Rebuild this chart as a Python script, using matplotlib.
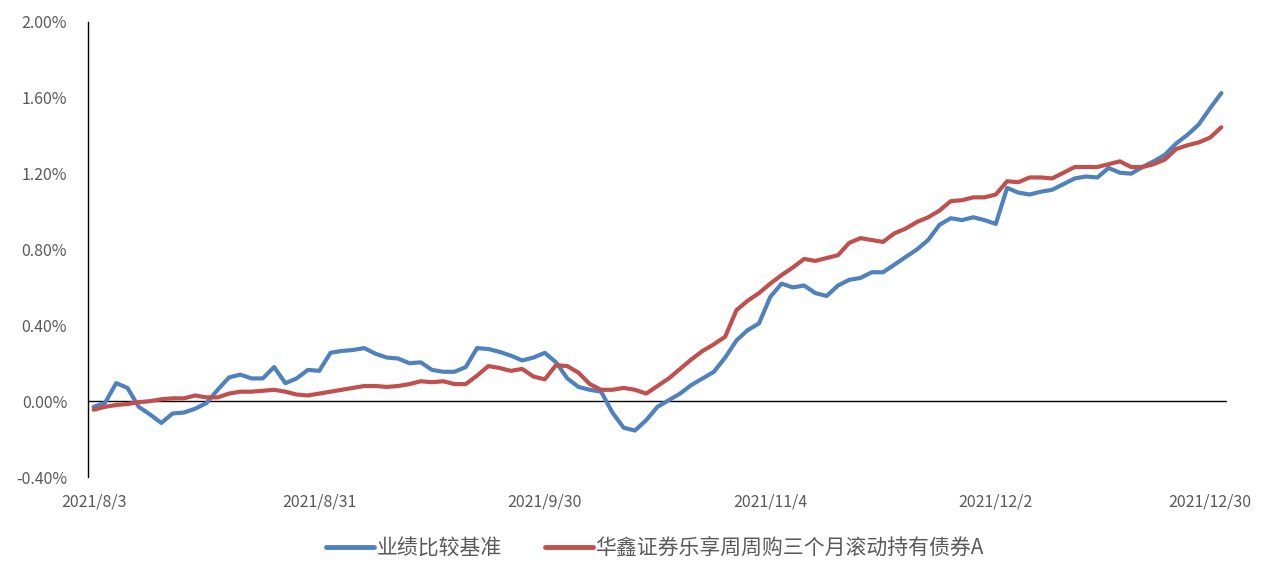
import matplotlib
matplotlib.use("Agg")
import matplotlib.pyplot as plt
import matplotlib.transforms as mtransforms
from matplotlib.ticker import PercentFormatter
import numpy as np

plt.rcParams['font.family'] = ['Noto Sans CJK SC', 'DejaVu Sans']
plt.rcParams['axes.unicode_minus'] = False

# x axis labels (one every 20 trading days)
tickDates = ['2021/8/3', '2021/8/31', '2021/9/30', '2021/11/4', '2021/12/2', '2021/12/30']
tickEvery = 20

seriesNames = ['业绩比较基准', '华鑫证券乐享周周购三个月滚动持有债券A']

# cumulative return, in %
benchmarkSeq = [
    -0.03, -0.01, 0.095, 0.07, -0.03, -0.07, -0.115, -0.065, -0.06, -0.04,
    -0.01, 0.06, 0.125, 0.14, 0.12, 0.12, 0.18, 0.095, 0.12, 0.165,
    0.16, 0.255, 0.265, 0.27, 0.28, 0.25, 0.23, 0.225, 0.20, 0.205,
    0.165, 0.155, 0.155, 0.18, 0.28, 0.275, 0.26, 0.24, 0.215, 0.23,
    0.255, 0.205, 0.12, 0.075, 0.06, 0.05, -0.06, -0.14, -0.155, -0.10,
    -0.03, 0.005, 0.04, 0.085, 0.12, 0.155, 0.23, 0.32, 0.375, 0.41,
    0.55, 0.62, 0.60, 0.61, 0.57, 0.555, 0.61, 0.64, 0.65, 0.68,
    0.68, 0.72, 0.76, 0.80, 0.85, 0.93, 0.965, 0.955, 0.97, 0.955,
    0.935, 1.125, 1.10, 1.09, 1.105, 1.115, 1.145, 1.175, 1.185, 1.18,
    1.23, 1.205, 1.20, 1.235, 1.265, 1.30, 1.36, 1.405, 1.46, 1.545,
    1.625]

fundSeq = [
    -0.045, -0.03, -0.02, -0.015, -0.005, 0.0, 0.01, 0.015, 0.015, 0.03,
    0.02, 0.02, 0.04, 0.05, 0.05, 0.055, 0.06, 0.05, 0.035, 0.03,
    0.04, 0.05, 0.06, 0.07, 0.08, 0.08, 0.075, 0.08, 0.09, 0.105,
    0.10, 0.105, 0.09, 0.09, 0.135, 0.185, 0.175, 0.16, 0.17, 0.13,
    0.115, 0.19, 0.185, 0.15, 0.09, 0.06, 0.06, 0.07, 0.06, 0.04,
    0.08, 0.12, 0.17, 0.22, 0.265, 0.30, 0.34, 0.48, 0.53, 0.57,
    0.62, 0.665, 0.705, 0.75, 0.74, 0.755, 0.77, 0.835, 0.86, 0.85,
    0.84, 0.885, 0.91, 0.945, 0.97, 1.005, 1.055, 1.06, 1.075, 1.075,
    1.09, 1.16, 1.155, 1.18, 1.18, 1.175, 1.205, 1.235, 1.235, 1.235,
    1.25, 1.265, 1.235, 1.235, 1.25, 1.275, 1.33, 1.35, 1.365, 1.39,
    1.445]

yTicks = [-0.4, 0.0, 0.4, 0.8, 1.2, 1.6, 2.0]

blueClr = '#4F81BD'
redClr = '#C0504D'
textClr = '#595959'

fig = plt.figure(figsize=(12.62, 5.64), dpi=100)
ax = fig.add_axes([88 / 1262, 87 / 564, 1139 / 1262, 455 / 564])

xIdx = np.arange(len(benchmarkSeq))
ax.plot(xIdx, benchmarkSeq, color=blueClr, lw=3, label=seriesNames[0],
        solid_joinstyle='round', solid_capstyle='round', zorder=3)
ax.plot(xIdx, fundSeq, color=redClr, lw=3, label=seriesNames[1],
        solid_joinstyle='round', solid_capstyle='round', zorder=3)

# horizontal axis sits at zero (excel style)
ax.axhline(0, color='black', lw=1, zorder=2)

ax.set_xlim(-0.5, len(benchmarkSeq) - 0.5)
ax.set_ylim(yTicks[0], yTicks[-1])
ax.set_yticks(yTicks)
ax.yaxis.set_major_formatter(PercentFormatter(xmax=100, decimals=2))
ax.set_xticks(np.arange(0, len(benchmarkSeq), tickEvery))
ax.set_xticklabels(tickDates)

for side in ['top', 'right', 'bottom']:
    ax.spines[side].set_visible(False)
ax.spines['left'].set_linewidth(1)
ax.spines['left'].set_color('black')

ax.tick_params(axis='y', length=0, pad=15, labelsize=11.5, labelcolor=textClr)
ax.tick_params(axis='x', length=0, pad=12, labelsize=11.5, labelcolor=textClr)

# last date label is pushed left so it stays in the picture
lastLbl = ax.get_xticklabels()[-1]
shift = mtransforms.ScaledTranslation(-8 / 72, 0, fig.dpi_scale_trans)
lastLbl.set_transform(lastLbl.get_transform() + shift)

leg = fig.legend(loc='center', bbox_to_anchor=(0.519, 0.027), ncol=2, frameon=False,
                 fontsize=15, handlelength=2.3, handletextpad=0.1, columnspacing=2.1,
                 labelcolor=textClr)
for legLine in leg.get_lines():
    legLine.set_linewidth(3.5)

fig.savefig('out.png', dpi=100)
